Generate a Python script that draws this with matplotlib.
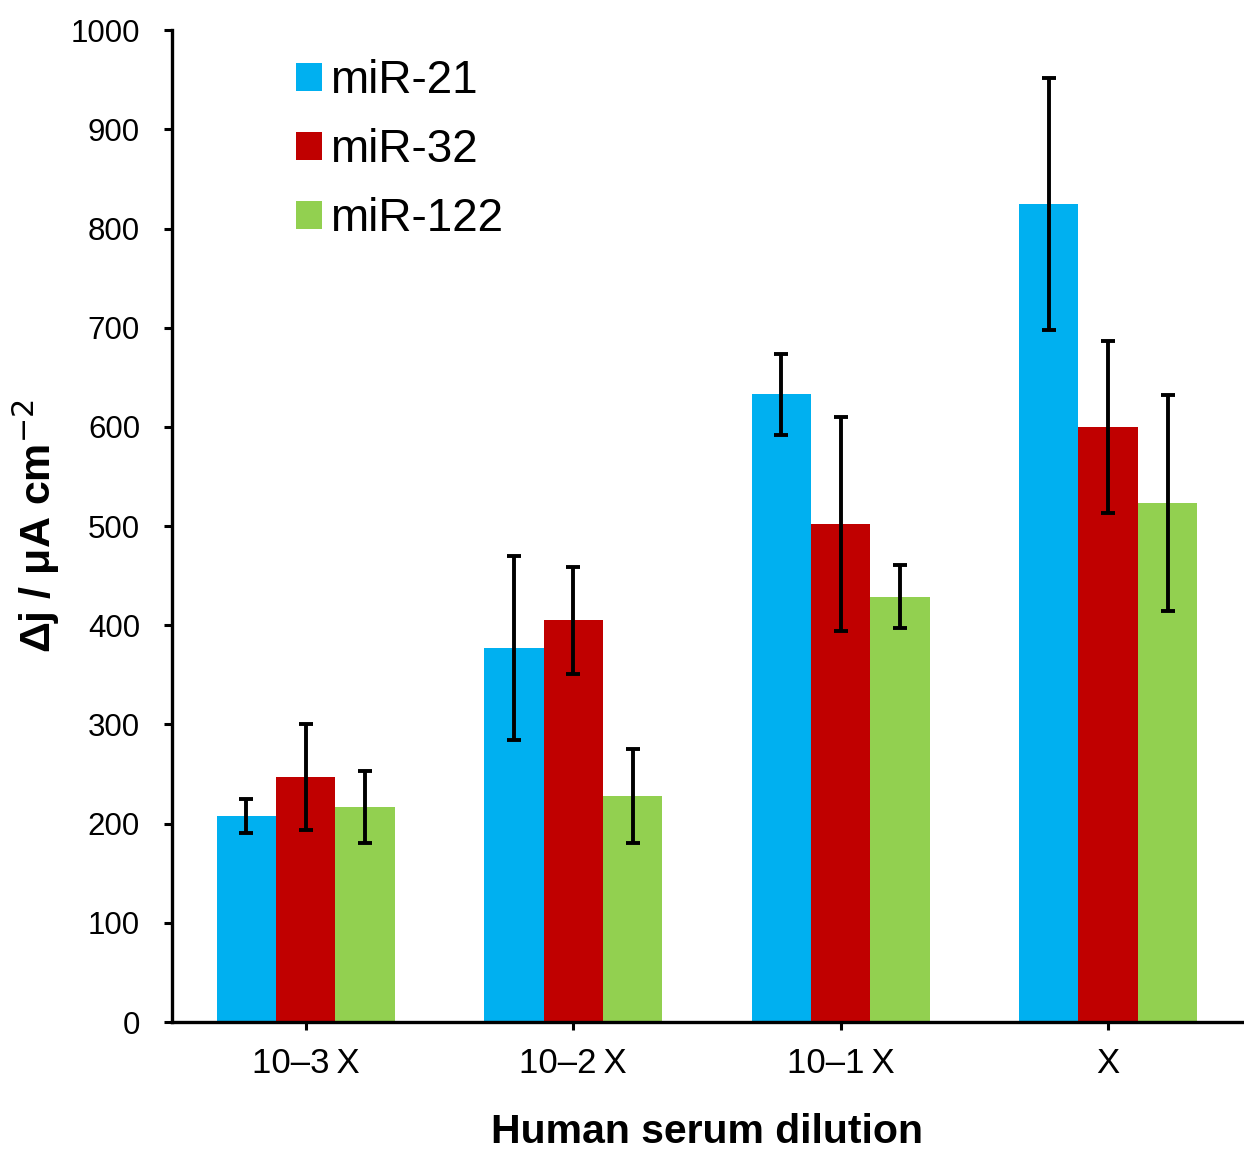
import matplotlib
matplotlib.use("Agg")
import matplotlib.pyplot as plt
import numpy as np

categories = ["10\u20133\u2009X", "10\u20132\u2009X", "10\u20131\u2009X", "X"]
series = ["miR-21", "miR-32", "miR-122"]
mir21 = [208, 377, 633, 825]
mir32 = [247, 405, 502, 600]
mir122 = [217, 228, 429, 523]
err21 = [17, 93, 41, 127]
err32 = [53, 54, 108, 87]
err122 = [36, 47, 32, 109]
colors = ["#00B0F0", "#C00000", "#92D050"]

plt.rcParams['font.family'] = ['Liberation Sans', 'DejaVu Sans']

fig = plt.figure(figsize=(12.44, 11.52), dpi=100)
ax = fig.add_axes([0.1383, 0.1128, 0.860, 0.861])

x = np.arange(len(categories))
w = 0.222
vals = [mir21, mir32, mir122]
errs = [err21, err32, err122]
for i, (v, e, c, name) in enumerate(zip(vals, errs, colors, series)):
    ax.bar(x + (i - 1) * w, v, width=w, color=c, label=name, zorder=2)
    ax.errorbar(x + (i - 1) * w, v, yerr=e, fmt='none', ecolor='black',
                elinewidth=2.8, capsize=5, capthick=2.8, zorder=3)

ax.set_xlim(-0.5, 3.5)
ax.set_ylim(0, 1000)
ax.set_yticks(np.arange(0, 1001, 100))
ax.set_xticks(x)
ax.set_xticklabels(categories, fontsize=25)
ax.tick_params(axis='y', labelsize=22.5, length=6, width=2.2, pad=17, direction='out')
ax.tick_params(axis='x', length=6, width=2.2, pad=12, direction='out')
for s in ['top', 'right']:
    ax.spines[s].set_visible(False)
for s in ['left', 'bottom']:
    ax.spines[s].set_linewidth(2.4)

ax.set_ylabel("\u0394j / \u03bcA cm$^{\u22122}$", fontsize=31, fontweight='bold', labelpad=6)
ax.set_xlabel("Human serum dilution", fontsize=29.5, fontweight='bold', labelpad=24)

leg = ax.legend(loc='upper left', bbox_to_anchor=(0.116, 0.971), frameon=False,
                fontsize=33, handlelength=0.56, handleheight=0.56,
                handletextpad=0.17, labelspacing=0.55, borderpad=0, borderaxespad=0)

fig.savefig("out.png", dpi=100)
